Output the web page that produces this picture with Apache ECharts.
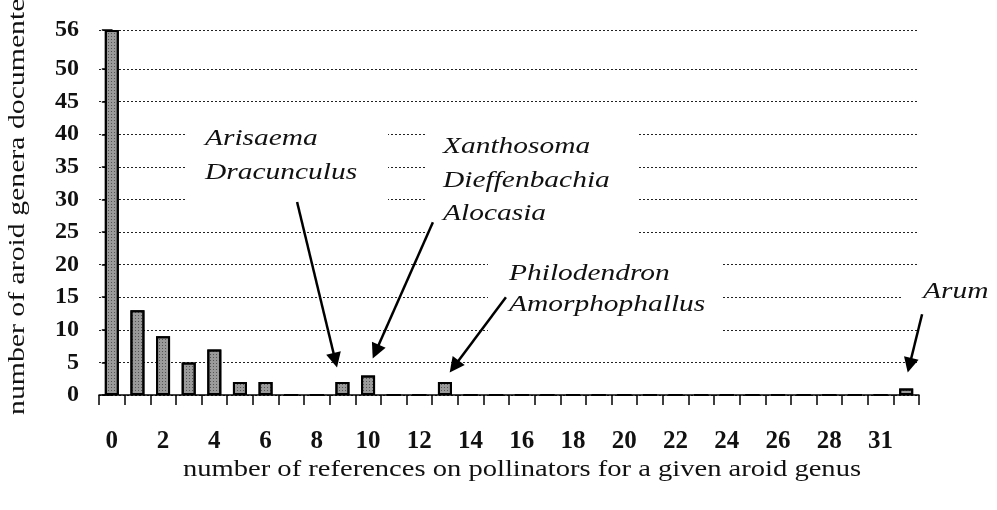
<!DOCTYPE html>
<html>
<head>
<meta charset="utf-8">
<script src="https://cdn.jsdelivr.net/npm/echarts@6/dist/echarts.min.js"></script>
<style>html,body{margin:0;padding:0;background:#fff;}#c{width:997px;height:510px;}</style>
</head>
<body>
<div id="c"></div>
<script>
// number of references on pollinators (category index 0..31)
const categories = ['0','1','2','3','4','5','6','7','8','9','10','11','12','13','14','15','16','17','18','19','20','21','22','23','24','25','26','27','28','29','30','31'];
// number of aroid genera documented
const counts = [56,13,9,5,7,2,2,0,0,2,3,0,0,2,0,0,0,0,0,0,0,0,0,0,0,0,0,0,0,0,0,1];
// tick labels as printed on the original axis
const xTickLabels = ['0','','2','','4','','6','','8','','10','','12','','14','','16','','18','','20','','22','','24','','26','','28','','31',''];
const yTickValues = [0,5,10,15,20,25,30,35,40,45,50,56];

// annotations (genus names) and their arrows, in data units (x = category position, y = count)
const annotationTexts = [['Arisaema','Dracunculus'],['Xanthosoma','Dieffenbachia','Alocasia'],['Philodendron','Amorphophallus'],['Arum']];
const arrowFrom = [[7.23,29.6],[12.53,26.5],[15.38,15.0],[31.62,12.4]];
const arrowTo = [[8.72,5.34],[10.30,6.66],[13.36,4.39],[31.13,4.57]];

const serif = '"Liberation Serif","Times New Roman",serif';
const chart = echarts.init(document.getElementById('c'));

const textBlocks = [
  {left:205, top:122, lh:34, box:[185,112,203,102]},
  {left:443, top:130.5, lh:33.5, box:[425,112,212,133]},
  {left:509, top:258.5, lh:31, box:[488,250,234,95]},
  {left:923, top:276, lh:32, box:[903,282,94,28]}
];
const graphics = [];
textBlocks.forEach((b,i)=>{
  graphics.push({type:'rect', z:1, shape:{x:b.box[0], y:b.box[1], width:b.box[2], height:b.box[3]}, style:{fill:'#fff'}, silent:true});
  graphics.push({type:'text', z:3, x:b.left, y:b.top, scaleX:1.28, style:{text:annotationTexts[i].join('\n'), font:'italic 23px '+serif, fill:'#111', lineHeight:b.lh, textAlign:'left', textVerticalAlign:'top'}});
});
// axis titles
graphics.push({type:'text', z:3, x:18, y:415, rotation:Math.PI/2, scaleX:1.24, style:{text:'number of aroid genera documented', font:'24px '+serif, fill:'#111', textAlign:'left', textVerticalAlign:'middle'}});
graphics.push({type:'text', z:3, x:522, y:470, scaleX:1.19, style:{text:'number of references on pollinators for a given aroid genus', font:'24px '+serif, fill:'#111', textAlign:'center', textVerticalAlign:'middle'}});

chart.setOption({
  animation:false,
  backgroundColor:'#fff',
  grid:{left:99, right:78, top:30, bottom:115, outerBoundsMode:'none'},
  xAxis:[{
    type:'category', data:categories, boundaryGap:true,
    axisLine:{lineStyle:{color:'#000', width:1.5}},
    axisTick:{show:true, interval:0, length:10, lineStyle:{color:'#000', width:1.5}},
    axisLabel:{interval:0, margin:34, fontFamily:serif, fontWeight:'bold', fontSize:25, color:'#111',
      formatter:(v,i)=>xTickLabels[i]},
    splitLine:{show:false}
  },{
    type:'value', min:-0.5, max:31.5, show:false
  }],
  yAxis:{
    type:'value', min:0, max:56, interval:5,
    axisLine:{show:true, lineStyle:{color:'#000', width:1.5}},
    axisTick:{show:true, length:10, lineStyle:{color:'#000', width:1.5}, customValues:yTickValues},
    axisLabel:{margin:20, fontFamily:serif, fontWeight:'bold', fontSize:24, color:'#111', customValues:yTickValues},
    splitLine:{show:true, lineStyle:{color:'#222', width:1, type:[2,2]}}
  },
  series:[{
    type:'bar', data:counts, barWidth:14, z:2,
    itemStyle:{color:'#9a9a9a', borderColor:'#000', borderWidth:2,
      decal:{symbol:'rect', symbolSize:1, color:'rgba(0,0,0,0.45)', dashArrayX:[1,2], dashArrayY:[1,2], rotation:0}}
  },{
    type:'lines', coordinateSystem:'cartesian2d', xAxisIndex:1, yAxisIndex:0, clip:false, z:4,
    symbol:['none','triangle'], symbolSize:15,
    lineStyle:{color:'#000', width:2.5, opacity:1},
    itemStyle:{color:'#000'},
    data: arrowFrom.map((p,i)=>({coords:[p, arrowTo[i]]}))
  }],
  graphic: graphics
});
</script>
</body>
</html>
